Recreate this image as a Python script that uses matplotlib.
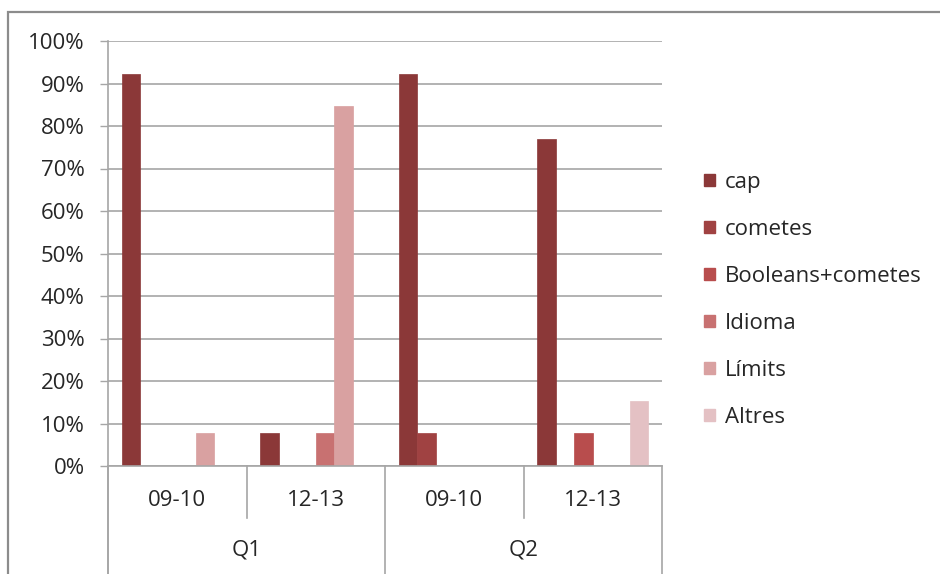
import matplotlib
matplotlib.use("Agg")
import matplotlib.pyplot as plt
from matplotlib.patches import Rectangle
from matplotlib.transforms import blended_transform_factory

plt.rcParams['font.family'] = ['Open Sans', 'DejaVu Sans']

# Data
groups = ["Q1", "Q2"]
years = ["09-10", "12-13"]
series = ["cap", "cometes", "Booleans+cometes", "Idioma", "Límits", "Altres"]
# values per series, one per (group, year) column: Q1 09-10, Q1 12-13, Q2 09-10, Q2 12-13
cap = [0.923, 0.077, 0.923, 0.769]
cometes = [0.0, 0.0, 0.077, 0.0]
booleans_cometes = [0.0, 0.0, 0.0, 0.077]
idioma = [0.0, 0.077, 0.0, 0.0]
limits = [0.077, 0.846, 0.0, 0.0]
altres = [0.0, 0.0, 0.0, 0.154]
values = [cap, cometes, booleans_cometes, idioma, limits, altres]
colors = ["#8B3838", "#A04242", "#B84D4D", "#C87171", "#D9A1A1", "#E4C1C4"]
yticks = [i / 10 for i in range(11)]

W, H = 940, 574
FS = 16
TXT = "#262626"
fig = plt.figure(figsize=(W / 100, H / 100), dpi=100)

# outer chart frame
fig.add_artist(Rectangle((8 / W, -0.05), 1.2, (H - 12) / H + 0.05,
                         transform=fig.transFigure, fill=False,
                         edgecolor="#8C8C8C", lw=1.6, clip_on=False))

ax_l, ax_r, ax_t, ax_b = 108, 662, 41, 466
ax = fig.add_axes([ax_l / W, (H - ax_b) / H, (ax_r - ax_l) / W, (ax_b - ax_t) / H])

ncols = len(cap)
nser = len(series)
bw = 1.0 / (nser + 1.5)
grid_c = "#A6A6A6"

for j, (vals, col) in enumerate(zip(values, colors)):
    xs = [i + 0.5 + (j - (nser - 1) / 2) * bw for i in range(ncols)]
    ax.bar(xs, vals, width=bw, color=col, edgecolor=col, lw=0.5, zorder=3)

ax.set_xlim(0, ncols)
ax.set_ylim(0, 1)
ax.set_yticks(yticks)
ax.set_yticklabels([f"{int(round(t * 100))}%" for t in yticks], fontsize=FS, color=TXT)
ax.yaxis.grid(True, color=grid_c, lw=1.2, zorder=0)
ax.tick_params(axis='y', length=5.8, width=1.0, color=grid_c, pad=11)
ax.set_xticks([])
for s in ["top", "right", "bottom", "left"]:
    ax.spines[s].set_visible(False)

# category axis: dividers and labels below the plot
tr = blended_transform_factory(ax.transData, fig.transFigure)
def fy(py):
    return (H - py) / H

ax.plot([0, ncols], [fy(ax_b)] * 2, transform=tr, color=grid_c, lw=1.2, clip_on=False, zorder=4)
ax.plot([0, 0], [fy(ax_t), fy(H + 5)], transform=tr, color=grid_c, lw=1.2, clip_on=False)
for x in [0, 2, 4]:
    ax.plot([x, x], [fy(ax_b), fy(H + 5)], transform=tr, color=grid_c, lw=1.2, clip_on=False)
for x in [1, 3]:
    ax.plot([x, x], [fy(ax_b), fy(518)], transform=tr, color=grid_c, lw=1.2, clip_on=False)

for i in range(ncols):
    ax.text(i + 0.5, fy(500), years[i % 2], transform=tr, ha="center", va="center",
            fontsize=FS, color=TXT)
for g, name in enumerate(groups):
    ax.text(2 * g + 1, fy(550), name, transform=tr, ha="center", va="center",
            fontsize=FS, color=TXT)

# legend
handles = [Rectangle((0, 0), 1, 1, color=c) for c in colors]
fig.legend(handles, series, loc="upper left", bbox_to_anchor=(704 / W, fy(172)),
           frameon=False, fontsize=FS, handlelength=0.5, handleheight=0.5,
           handletextpad=0.45, labelspacing=1.17, borderaxespad=0, borderpad=0,
           labelcolor=TXT)

fig.savefig("out.png", dpi=100)
